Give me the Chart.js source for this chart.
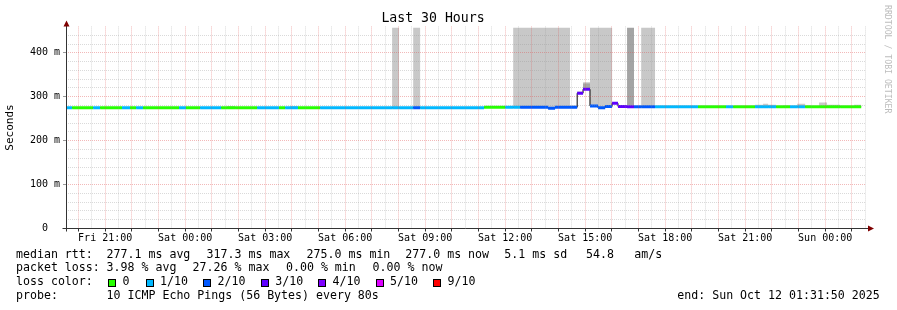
<!DOCTYPE html>
<html>
<head>
<meta charset="utf-8">
<script src="https://cdn.jsdelivr.net/npm/chart.js@4.4.1/dist/chart.umd.min.js"></script>
<style>
  html, body { margin: 0; padding: 0; background: #fff; }
  #wrap { position: relative; width: 897px; height: 310px; overflow: hidden; }
  #chart { position: absolute; left: 0; top: 0; }
  .leg { position: absolute; font: 11.6px 'DejaVu Sans Mono', monospace; line-height: 13.6px; white-space: pre; color: #000; }
  .sq { position: absolute; width: 6px; height: 6px; border: 1px solid #000; }
</style>
</head>
<body>
<div id="wrap">
  <canvas id="chart" width="897" height="310"></canvas>
  <div id="legend"></div>
</div>
<script>
// window: 30 hours ending Sun Oct 12 01:31:50, x values are hours since Fri 00:00
const endHour = 48 + 1 + 31 / 60 + 50 / 3600;
const startHour = endHour - 30;

// points where median / loss / smoke change (hours since Fri 00:00)
const hours = [19.53, 19.76, 20.55, 20.81, 21.63, 21.93, 22.16, 22.42, 23.77, 24.03,
  24.56, 25.35, 25.57, 25.87, 26.70, 27.52, 27.75, 27.93, 28.23, 29.06,
  31.76, 32.02, 32.55, 32.81, 35.21, 36.00, 36.30, 36.56, 37.08, 37.61,
  37.87, 38.43, 38.70, 38.92, 39.18, 39.48, 39.75, 40.01, 40.23, 40.57,
  40.83, 41.10, 41.62, 43.23, 44.28, 44.55, 45.37, 45.67, 45.86, 46.16,
  46.42, 46.68, 46.95, 47.25, 47.47, 47.77, 48.07, 48.56, 49.08, 49.35];

// median rtt in ms for each interval
const medianMs = [275, 275, 275, 275, 275, 275, 275, 275, 275, 275,
  275, 275, 275, 275, 275, 275, 275, 275, 275, 275,
  275, 275, 275, 275, 276, 276, 276, 276, 276, 274,
  276, 276, 308, 317, 279, 275, 278, 285, 278, 277,
  277, 277, 277, 277, 277, 277, 277, 277, 277, 277,
  277, 277, 277, 277, 277, 277, 277, 277, 277];

// packet loss level (index into lossColors) for each interval
const lossLevel = [1, 0, 1, 0, 1, 0, 1, 0, 1, 0,
  1, 0, 0, 0, 1, 0, 1, 1, 0, 1,
  1, 1, 2, 1, 0, 1, 1, 2, 2, 2,
  2, 2, 3, 3, 2, 2, 2, 3, 3, 3,
  2, 2, 1, 0, 1, 0, 1, 1, 1, 0,
  0, 1, 1, 0, 0, 0, 0, 0, 0];

// upper edge of the ping smoke (ms), null = no smoke
const smokeMs = [null, null, null, null, null, null, null, null, null, null,
  null, null, 279, null, null, null, null, 279, null, null,
  457, null, 457, null, null, null, 457, 457, 457, 457,
  457, 280, 312, 333, 457, 457, 457, 288, 281, null,
  null, 457, null, null, null, null, 282, 284, 282, null,
  280, null, 284, 280, null, 287, 282, null, 282];

// denser part of the smoke (ms)
const darkSmokeMs = [null, null, null, null, null, null, null, null, null, null,
  null, null, null, null, null, null, null, null, null, null,
  null, null, null, null, null, null, null, null, null, null,
  null, null, null, 330, null, null, null, null, null, 457,
  null, null, null, null, null, null, null, null, null, null,
  null, null, null, null, null, null, null, null, null];

const lossColors = ['#26ff00', '#00b8ff', '#0059ff', '#5e00ff', '#7e00ff', '#dd00ff', '#ff0000'];
const lossLabels = ['0', '1/10', '2/10', '3/10', '4/10', '5/10', '9/10'];

const xTickHours = [21, 24, 27, 30, 33, 36, 39, 42, 45, 48];
const xTickLabels = ['Fri 21:00', 'Sat 00:00', 'Sat 03:00', 'Sat 06:00', 'Sat 09:00',
  'Sat 12:00', 'Sat 15:00', 'Sat 18:00', 'Sat 21:00', 'Sun 00:00'];
const yTickValues = [0, 100, 200, 300, 400];
const yTickLabels = ['0  ', '100 m', '200 m', '300 m', '400 m'];

const majorGrid = 'rgba(222, 80, 80, 0.4)';
const minorGrid = 'rgba(150, 150, 150, 0.35)';
const axisColor = '#333';
const mono = "'DejaVu Sans Mono', monospace";

// stepped series: value i holds from hours[i] to hours[i+1]
function stepPoints(values) {
  const pts = values.map((v, i) => ({ x: hours[i], y: v }));
  pts.push({ x: hours[hours.length - 1], y: values[values.length - 1] });
  return pts;
}

// loss coloured bars: one short horizontal piece per interval
const bandPoints = [];
medianMs.forEach((v, i) => {
  bandPoints.push({ x: hours[i], y: v }, { x: hours[i + 1], y: v }, { x: hours[i + 1], y: null });
});

const gridHours = [];
for (let h = Math.ceil(startHour * 2) / 2; h < endHour; h += 0.5) gridHours.push(h);
const gridMs = [];
for (let v = 0; v < 460; v += 20) gridMs.push(v);

const rrdFrame = {
  id: 'rrdFrame',
  afterDraw(chart) {
    const { ctx, chartArea: a } = chart;
    const x0 = Math.floor(a.left) + 0.5;
    const y0 = Math.floor(a.bottom) + 0.5;
    ctx.save();
    ctx.strokeStyle = axisColor;
    ctx.lineWidth = 1;
    ctx.beginPath();
    ctx.moveTo(x0, a.top - 1);
    ctx.lineTo(x0, y0 + 3);
    ctx.moveTo(x0 - 4, y0);
    ctx.lineTo(a.right + 2, y0);
    ctx.stroke();

    ctx.fillStyle = '#7f0000';
    ctx.beginPath();
    ctx.moveTo(x0, a.top - 6);
    ctx.lineTo(x0 - 3, a.top);
    ctx.lineTo(x0 + 3, a.top);
    ctx.closePath();
    ctx.fill();
    ctx.beginPath();
    ctx.moveTo(a.right + 8, y0);
    ctx.lineTo(a.right + 2, y0 - 3);
    ctx.lineTo(a.right + 2, y0 + 3);
    ctx.closePath();
    ctx.fill();

    // watermark down the right edge
    ctx.translate(885, 5);
    ctx.rotate(Math.PI / 2);
    ctx.font = "8.2px " + mono;
    ctx.fillStyle = '#bdbdbd';
    ctx.textBaseline = 'alphabetic';
    ctx.fillText('RRDTOOL / TOBI OETIKER', 0, 0);
    ctx.restore();
  }
};

const ctx = document.getElementById('chart').getContext('2d');
new Chart(ctx, {
  type: 'line',
  data: {
    datasets: [
      {
        data: bandPoints,
        borderWidth: 3,
        borderColor: lossColors[0],
        segment: { borderColor: c => lossColors[lossLevel[Math.floor(c.p0DataIndex / 3)]] },
        spanGaps: false,
        pointRadius: 0,
        fill: false
      },
      {
        data: stepPoints(medianMs),
        stepped: true,
        borderWidth: 1,
        borderColor: '#000',
        pointRadius: 0,
        fill: false
      },
      {
        data: stepPoints(darkSmokeMs.map((v, i) => v === null ? medianMs[i] : v)),
        stepped: true,
        borderWidth: 0,
        pointRadius: 0,
        fill: { target: 1, above: '#a4a4a4', below: 'rgba(0,0,0,0)' }
      },
      {
        data: stepPoints(smokeMs.map((v, i) => v === null ? medianMs[i] : v)),
        stepped: true,
        borderWidth: 0,
        pointRadius: 0,
        fill: { target: 1, above: '#c8c8c8', below: 'rgba(0,0,0,0)' }
      }
    ]
  },
  options: {
    responsive: false,
    animation: false,
    layout: { padding: { left: 0, right: 31, top: 0, bottom: 61.5 } },
    plugins: {
      legend: { display: false },
      tooltip: { enabled: false },
      title: {
        display: true,
        text: 'Last 30 Hours',
        color: '#000',
        font: { family: mono, size: 13.2, weight: 'normal' },
        padding: { top: 10.6, bottom: 0 }
      }
    },
    scales: {
      x: {
        type: 'linear',
        min: startHour,
        max: endHour,
        afterBuildTicks: s => { s.ticks = gridHours.map(v => ({ value: v })); },
        afterFit: s => { s.height = 20; },
        grid: {
          z: 1,
          color: c => (c.tick && c.tick.value % 1 === 0) ? majorGrid : minorGrid,
          tickLength: 3,
          tickColor: c => (c.tick && c.tick.value % 1 === 0) ? axisColor : 'rgba(0,0,0,0)'
        },
        border: { display: false, dash: [1, 1] },
        ticks: {
          autoSkip: false,
          maxRotation: 0,
          padding: 1,
          color: '#000',
          font: { family: mono, size: 10 },
          callback: v => {
            const k = xTickHours.indexOf(v);
            return k >= 0 ? xTickLabels[k] : '';
          }
        }
      },
      y: {
        min: 0,
        max: 460,
        afterBuildTicks: s => { s.ticks = gridMs.map(v => ({ value: v })); },
        afterFit: s => { s.width = 66; },
        grid: {
          z: 1,
          color: c => (c.tick && c.tick.value % 100 === 0) ? majorGrid : minorGrid,
          tickLength: 3,
          tickColor: c => (c.tick && c.tick.value % 100 === 0) ? '#999' : 'rgba(0,0,0,0)'
        },
        border: { display: false, dash: [1, 1] },
        ticks: {
          autoSkip: false,
          padding: 3,
          color: '#000',
          font: { family: mono, size: 10 },
          callback: v => {
            const k = yTickValues.indexOf(v);
            return k >= 0 ? yTickLabels[k] : '';
          }
        },
        title: {
          display: true,
          text: 'Seconds',
          color: '#000',
          font: { family: mono, size: 11, weight: 'normal' },
          padding: { top: 4, bottom: 0 }
        }
      }
    }
  },
  plugins: [rrdFrame]
});

// legend block under the graph, each piece placed like rrdtool does
const legendRows = [
  { top: 247.5, items: [['median rtt:', 16], ['277.1 ms avg', 106.6], ['317.3 ms max', 206.6],
    ['275.0 ms min', 306.6], ['277.0 ms now', 405.3], ['5.1 ms sd', 504.3], ['54.8', 586], ['am/s', 634.3]] },
  { top: 260.9, items: [['packet loss:', 16], ['3.98 % avg', 106.6], ['27.26 % max', 192.6],
    ['0.00 % min', 286], ['0.00 % now', 372.6]] },
  { top: 274.9, items: [['loss color:', 16]] },
  { top: 288.5, items: [['probe:', 16], ['10 ICMP Echo Pings (56 Bytes) every 80s', 106.6],
    ['end: Sun Oct 12 01:31:50 2025', 677.3]] }
];
const legendBox = document.getElementById('legend');
function addText(text, left, top) {
  const d = document.createElement('div');
  d.className = 'leg';
  d.style.left = left + 'px';
  d.style.top = top + 'px';
  d.textContent = text;
  legendBox.appendChild(d);
}
legendRows.forEach(r => r.items.forEach(([t, x]) => addText(t, x, r.top)));

const swatchX = [108.3, 145.7, 203.3, 261, 318.3, 375.7, 433.3];
lossLabels.forEach((lab, i) => {
  const sq = document.createElement('div');
  sq.className = 'sq';
  sq.style.left = swatchX[i] + 'px';
  sq.style.top = '278.7px';
  sq.style.background = lossColors[i];
  legendBox.appendChild(sq);
  addText(lab, swatchX[i] + 14.3, 274.9);
});
</script>
</body>
</html>
